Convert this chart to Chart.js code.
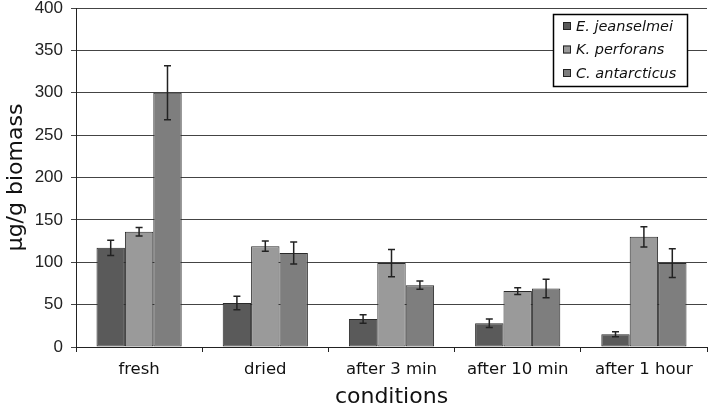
<!DOCTYPE html>
<html>
<head>
<meta charset="utf-8">
<script src="https://cdn.jsdelivr.net/npm/chart.js@4.4.1/dist/chart.umd.min.js"></script>
<style>
  html, body { margin: 0; padding: 0; background: #fff; }
  #wrap { width: 708px; height: 410px; }
</style>
</head>
<body>
<div id="wrap"><canvas id="biomassChart"></canvas></div>
<script>
// ---- data ----
const conditions = ["fresh", "dried", "after 3 min", "after 10 min", "after 1 hour"];
const speciesNames = ["E. jeanselmei", "K. perforans", "C. antarcticus"];
const jeanselmei = [117, 52, 33, 28, 15];
const jeanselmeiErr = [9, 8, 5, 5, 3];
const perforans = [136, 119, 99, 66, 130];
const perforansErr = [5, 6, 16, 4, 12];
const antarcticus = [300, 111, 73, 69, 99];
const antarcticusErr = [32, 13, 5, 11, 17];
const yMax = 400;
const yStep = 50;

const SANS = "'DejaVu Sans', sans-serif";
const ARIAL = "'Liberation Sans', Arial, sans-serif";
Chart.defaults.font.family = SANS;
Chart.defaults.color = "#222";

// error bars drawn on top of each bar
const errorBars = {
  id: "errorBars",
  afterDatasetsDraw(chart) {
    const ctx = chart.ctx;
    const y = chart.scales.y;
    ctx.save();
    ctx.strokeStyle = "#222";
    ctx.lineWidth = 1.5;
    chart.data.datasets.forEach((ds, i) => {
      chart.getDatasetMeta(i).data.forEach((bar, j) => {
        const v = ds.data[j], e = ds.errors[j];
        const top = y.getPixelForValue(v + e);
        const bot = y.getPixelForValue(v - e);
        const x = bar.x;
        ctx.beginPath();
        ctx.moveTo(x, top); ctx.lineTo(x, bot);
        ctx.moveTo(x - 3.5, top); ctx.lineTo(x + 3.5, top);
        ctx.moveTo(x - 3.5, bot); ctx.lineTo(x + 3.5, bot);
        ctx.stroke();
      });
    });
    ctx.restore();
  }
};

// boxed legend sitting inside the plot, top right
const boxLegend = {
  id: "boxLegend",
  afterDraw(chart) {
    const ctx = chart.ctx;
    const x0 = 553, y0 = 14, w = 134, h = 72;
    ctx.save();
    ctx.fillStyle = "#fff";
    ctx.fillRect(x0, y0, w, h);
    ctx.strokeStyle = "#000";
    ctx.lineWidth = 1.5;
    ctx.strokeRect(x0 + 0.5, y0 + 0.5, w, h);
    ctx.font = "italic 14.5px " + SANS;
    ctx.textBaseline = "middle";
    chart.data.datasets.forEach((ds, i) => {
      const cy = y0 + 12 + i * 23.5;
      ctx.fillStyle = ds.backgroundColor;
      ctx.fillRect(x0 + 10, cy - 4, 8, 8);
      ctx.lineWidth = 1;
      ctx.strokeStyle = "#222";
      ctx.strokeRect(x0 + 10.5, cy - 3.5, 7, 7);
      ctx.fillStyle = "#111";
      ctx.fillText(ds.label, x0 + 23, cy + 1);
    });
    ctx.restore();
  }
};

const barStyle = { borderColor: "#2a2a2a", borderWidth: 1, borderSkipped: false };

new Chart(document.getElementById("biomassChart"), {
  type: "bar",
  data: {
    labels: conditions,
    datasets: [
      { label: speciesNames[0], data: jeanselmei, errors: jeanselmeiErr, backgroundColor: "#5a5a5a", ...barStyle },
      { label: speciesNames[1], data: perforans, errors: perforansErr, backgroundColor: "#9a9a9a", ...barStyle },
      { label: speciesNames[2], data: antarcticus, errors: antarcticusErr, backgroundColor: "#7e7e7e", ...barStyle }
    ]
  },
  options: {
    responsive: true,
    maintainAspectRatio: false,
    animation: false,
    layout: { padding: 0 },
    datasets: { bar: { categoryPercentage: 0.675, barPercentage: 1 } },
    plugins: {
      legend: { display: false },
      tooltip: { enabled: false }
    },
    scales: {
      x: {
        grid: { offset: true, drawOnChartArea: false, drawTicks: true, tickLength: 5, color: "#222" },
        border: { color: "#222", width: 1 },
        ticks: { font: { size: 16.5 }, color: "#111", padding: 8, maxRotation: 0 },
        title: { display: true, text: "conditions", font: { size: 22 }, color: "#111", padding: { top: 6, bottom: 0 } },
        afterFit(scale) {
          scale.height = 63;
          scale.paddingLeft = 0;
          scale.paddingRight = 1;
        }
      },
      y: {
        min: 0,
        max: yMax,
        grid: { color: "#444", lineWidth: 1, tickLength: 5 },
        border: { color: "#222", width: 1 },
        ticks: { stepSize: yStep, font: { size: 17, family: ARIAL }, color: "#222", padding: 8 },
        title: { display: true, text: "μg/g biomass", font: { size: 22 }, color: "#111", padding: { top: 3, bottom: 0 } },
        afterFit(scale) {
          scale.width = 76;
          scale.paddingTop = 8;
          scale.paddingBottom = 0;
        }
      }
    }
  },
  plugins: [errorBars, boxLegend]
});
</script>
</body>
</html>
